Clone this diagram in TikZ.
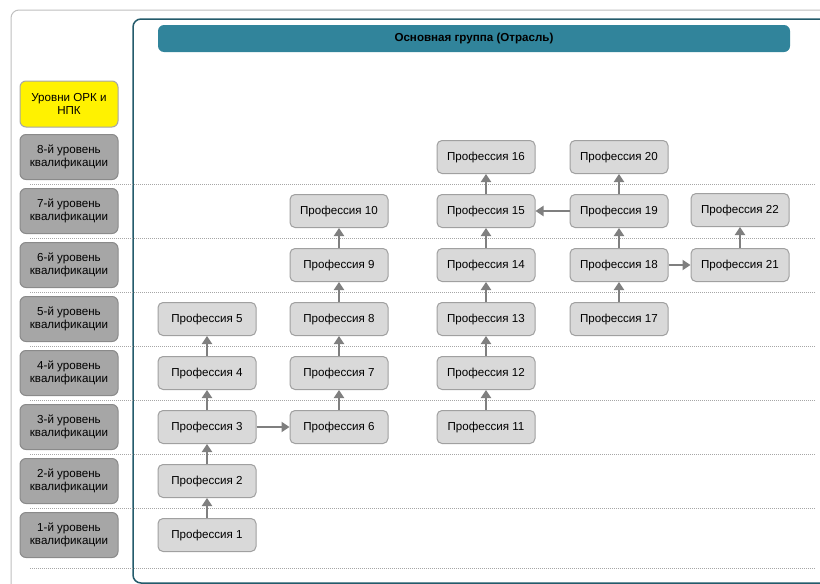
\documentclass[tikz,border=0pt]{standalone}
\usepackage{fontspec}
\setmainfont{Liberation Sans}
\usepackage{tikz}
\usetikzlibrary{positioning, calc, arrows.meta}

\definecolor{profgray}{HTML}{D9D9D9}
\definecolor{profline}{HTML}{A0A0A0}
\definecolor{levelgray}{HTML}{A6A6A6}
\definecolor{levelline}{HTML}{8A8A8A}
\definecolor{headteal}{HTML}{31849B}
\definecolor{frameteal}{HTML}{245B6B}
\definecolor{arrowgray}{HTML}{7F7F7F}

\tikzset{
	prof/.style = {draw = profline, fill = profgray, rounded corners = 5pt, line width = 1pt,
		minimum width = 98pt, minimum height = 33pt, inner sep = 0pt, font = \fontsize{11.6}{13}\selectfont},
	levelbox/.style = {draw = levelline, fill = levelgray, rounded corners = 6pt, line width = 1pt,
		minimum width = 98pt, minimum height = 45pt, inner sep = 0pt, align = center,
		font = \fontsize{11.6}{13.5}\selectfont},
	up/.style = {draw = arrowgray, line width = 2.8pt, -{Triangle[length=8pt, width=10pt]}},
	rowline/.style = {draw = black!35, line width = 0.6pt, dash pattern = on 1pt off 1pt}
}

\begin{document}
\begin{tikzpicture}[x = 1pt, y = -1pt]
		\useasboundingbox (0,0) rectangle (820,584);
		\clip (0,0) rectangle (820,584);

		% frames
		\draw[black!25, line width = 1pt, rounded corners = 8pt] (11,10) rectangle (860,620);
		\draw[frameteal, line width = 1.5pt, rounded corners = 8pt] (133,19) rectangle (860,583);

		\node[fill = headteal, rounded corners = 6pt, minimum width = 632pt, minimum height = 27pt,
			inner sep = 0pt, font = \fontsize{11.6}{13}\bfseries\selectfont] (head) at (474,38.5) {Основная группа (Отрасль)};

		% levels
		\node[levelbox, fill = yellow, draw = black!35, minimum height = 46pt] (orc) at (69,104) {Уровни ОРК и\\НПК};
		\foreach \n in {1,...,8}
		{
			\node[levelbox] (lev\n) at (69,589-54*\n) {\n-й уровень\\квалификации};
		}
		\foreach \y in {184,238,292,346,400,454,508,568}
			\draw[rowline] (30,\y) -- (815,\y);

		% professions
		\node[prof] (p1) at (207,535) {Профессия 1};
		\node[prof] (p2) at (207,481) {Профессия 2};
		\node[prof] (p3) at (207,427) {Профессия 3};
		\node[prof] (p4) at (207,373) {Профессия 4};
		\node[prof] (p5) at (207,319) {Профессия 5};

		\node[prof] (p6) at (339,427) {Профессия 6};
		\node[prof] (p7) at (339,373) {Профессия 7};
		\node[prof] (p8) at (339,319) {Профессия 8};
		\node[prof] (p9) at (339,265) {Профессия 9};
		\node[prof] (p10) at (339,211) {Профессия 10};

		\node[prof] (p11) at (486,427) {Профессия 11};
		\node[prof] (p12) at (486,373) {Профессия 12};
		\node[prof] (p13) at (486,319) {Профессия 13};
		\node[prof] (p14) at (486,265) {Профессия 14};
		\node[prof] (p15) at (486,211) {Профессия 15};
		\node[prof] (p16) at (486,157) {Профессия 16};

		\node[prof] (p17) at (619,319) {Профессия 17};
		\node[prof] (p18) at (619,265) {Профессия 18};
		\node[prof] (p19) at (619,211) {Профессия 19};
		\node[prof] (p20) at (619,157) {Профессия 20};

		\node[prof] (p21) at (740,265) {Профессия 21};
		\node[prof] (p22) at (740,210) {Профессия 22};

		% links
		\draw[up] (p1) -- (p2);
		\draw[up] (p2) -- (p3);
		\draw[up] (p3) -- (p4);
		\draw[up] (p4) -- (p5);
		\draw[up] (p3) -- (p6);
		\draw[up] (p6) -- (p7);
		\draw[up] (p7) -- (p8);
		\draw[up] (p8) -- (p9);
		\draw[up] (p9) -- (p10);
		\draw[up] (p11) -- (p12);
		\draw[up] (p12) -- (p13);
		\draw[up] (p13) -- (p14);
		\draw[up] (p14) -- (p15);
		\draw[up] (p15) -- (p16);
		\draw[up] (p17) -- (p18);
		\draw[up] (p18) -- (p19);
		\draw[up] (p19) -- (p20);
		\draw[up] (p19) -- (p15);
		\draw[up] (p18) -- (p21);
		\draw[up] (p21) -- (p22);
	\end{tikzpicture}
\end{document}
